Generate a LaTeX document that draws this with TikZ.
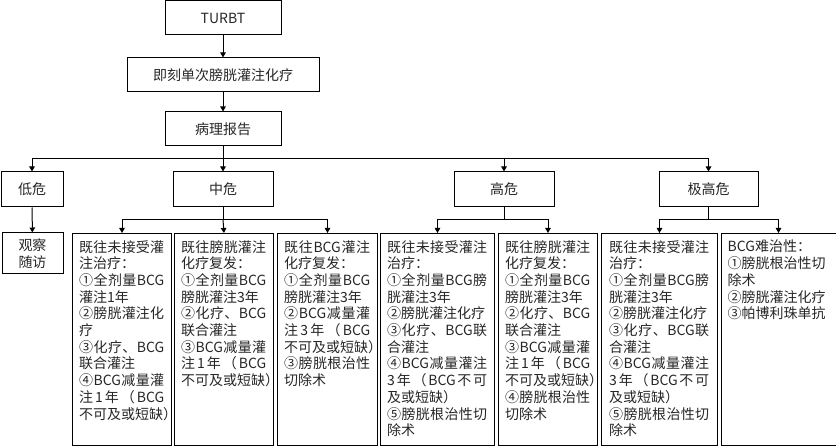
\documentclass[tikz,border=0pt]{standalone}
\usepackage{fontspec}
\setmainfont{Noto Sans CJK SC}
\usetikzlibrary{arrows.meta}
\def\jend{JEND}
\def\jsp#1{#1\jspB}
\def\jspB#1{\ifx\jend#1\else\hfil#1\expandafter\jspB\fi}
\newcommand\jl[2]{\hbox to #1pt{\jsp#2\jend}}
\begin{document}
\begin{tikzpicture}[x=1pt,y=1pt,
  box/.style={draw=black, line width=1pt, inner sep=0pt, rectangle},
  lbl/.style={font=\fontsize{14}{16.7}\selectfont, text=black!85, align=center},
  txt/.style={font=\fontsize{14}{16.7}\selectfont, text=black!85, align=left, anchor=north west, inner sep=0pt},
  arr/.style={line width=1pt, -{Triangle[length=5pt,width=5.5pt]}},
  ln/.style={line width=1pt}]
\useasboundingbox (0,0) rectangle (836,-446);

% top chain
\node[box, minimum width=116, minimum height=34, lbl] (turbt) at (223,-18) {TURBT};
\node[box, minimum width=192, minimum height=34, lbl] (imm) at (223,-75) {即刻单次膀胱灌注化疗};
\node[box, minimum width=116, minimum height=34, lbl] (path) at (223,-129) {病理报告};

% risk levels
\node[box, minimum width=62, minimum height=35, lbl] (low) at (32,-189.5) {低危};
\node[box, minimum width=100, minimum height=35, lbl] (mid) at (223,-189.5) {中危};
\node[box, minimum width=100, minimum height=35, lbl] (high) at (504,-189.5) {高危};
\node[box, minimum width=99, minimum height=35, lbl] (vhigh) at (708.5,-189.5) {极高危};

% low-risk leaf
\node[box, minimum width=61, minimum height=41, lbl] (obs) at (32.5,-253.5) {观察\\随访};

% treatment boxes
\node[box, anchor=north west, minimum width=99, minimum height=212] (b1) at (72,-233) {};
\node[box, anchor=north west, minimum width=99, minimum height=212] (b2) at (174,-233) {};
\node[box, anchor=north west, minimum width=100, minimum height=212] (b3) at (277,-233) {};
\node[box, anchor=north west, minimum width=114, minimum height=212] (b4) at (380,-233) {};
\node[box, anchor=north west, minimum width=99, minimum height=212] (b5) at (498,-233) {};
\node[box, anchor=north west, minimum width=116, minimum height=212] (b6) at (601,-233) {};
\node[box, anchor=north west, minimum width=115, minimum height=212] (b7) at (720.5,-233) {};

\node[txt] (t1) at ([shift={(7,-7)}]b1.north west) {\jl{85}{既往未接受灌}\\注治疗：\\\jl{85}{①全剂量{BCG}}\\灌注1年\\\jl{85}{②膀胱灌注化}\\疗\\\jl{85}{③化疗、{BCG}}\\联合灌注\\\jl{85}{④{BCG}减量灌}\\\jl{85}{注1年（{BCG}}\\不可及或短缺）};
\node[txt] (t2) at ([shift={(7,-7)}]b2.north west) {\jl{85}{既往膀胱灌注}\\化疗复发：\\\jl{85}{①全剂量{BCG}}\\膀胱灌注3年\\\jl{85}{②化疗、{BCG}}\\联合灌注\\\jl{85}{③{BCG}减量灌}\\\jl{85}{注1年（{BCG}}\\不可及或短缺）};
\node[txt] (t3) at ([shift={(7,-7)}]b3.north west) {\jl{86}{既往{BCG}灌注}\\化疗复发：\\\jl{86}{①全剂量{BCG}}\\膀胱灌注3年\\\jl{86}{②{BCG}减量灌}\\\jl{86}{注3年（{BCG}}\\不可及或短缺）\\\jl{86}{③膀胱根治性}\\切除术};
\node[txt] (t4) at ([shift={(7,-7)}]b4.north west) {\jl{100}{既往未接受灌注}\\治疗：\\\jl{100}{①全剂量{BCG}膀}\\胱灌注3年\\②膀胱灌注化疗\\\jl{100}{③化疗、{BCG}联}\\合灌注\\\jl{100}{④{BCG}减量灌注}\\\jl{100}{3年（{BCG}不可}\\及或短缺）\\\jl{100}{⑤膀胱根治性切}\\除术};
\node[txt] (t5) at ([shift={(7,-7)}]b5.north west) {\jl{85}{既往膀胱灌注}\\化疗复发：\\\jl{85}{①全剂量{BCG}}\\膀胱灌注3年\\\jl{85}{②化疗、{BCG}}\\联合灌注\\\jl{85}{③{BCG}减量灌}\\\jl{85}{注1年（{BCG}}\\不可及或短缺）\\\jl{85}{④膀胱根治性}\\切除术};
\node[txt] (t6) at ([shift={(8,-7)}]b6.north west) {\jl{100}{既往未接受灌注}\\治疗：\\\jl{100}{①全剂量{BCG}膀}\\胱灌注3年\\②膀胱灌注化疗\\\jl{100}{③化疗、{BCG}联}\\合灌注\\\jl{100}{④{BCG}减量灌注}\\\jl{100}{3年（{BCG}不可}\\及或短缺）\\\jl{100}{⑤膀胱根治性切}\\除术};
\node[txt] (t7) at ([shift={(7,-7)}]b7.north west) {BCG难治性：\\①膀胱根治性切\\除术\\②膀胱灌注化疗\\③帕博利珠单抗};

% connectors
\draw[arr] (turbt) -- (imm);
\draw[arr] (imm) -- (path);
\coordinate (bus) at (223,-159);
\draw[arr] (path) -- (mid);
\draw[arr] (bus) -| (low.north);
\draw[arr] (bus) -| (high.north);
\draw[arr] (bus) -| (vhigh.north);
\draw[arr] (low) -- (obs);

\coordinate (mb) at (223,-220);
\draw[ln] (mid.south) -- (mb);
\draw[arr] (mb) -| (b1.north);
\draw[arr] (mb) -- (b2.north);
\draw[arr] (mb) -| (b3.north);

\coordinate (hb) at (504,-220);
\draw[ln] (high.south) -- (hb);
\draw[arr] (hb) -| (b4.north);
\draw[arr] (hb) -| (b5.north);

\coordinate (vb) at (708.5,-220);
\draw[ln] (vhigh.south) -- (vb);
\draw[arr] (vb) -| (b6.north);
\draw[arr] (vb) -| (b7.north);
\end{tikzpicture}
\end{document}
